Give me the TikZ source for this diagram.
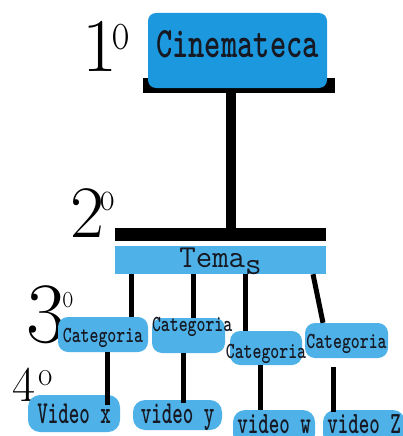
\documentclass[tikz,border=0pt]{standalone}
\usepackage{graphicx}
\definecolor{cineblue}{RGB}{28,152,222}
\definecolor{skyblue}{RGB}{78,178,232}
\definecolor{inkblack}{RGB}{22,24,34}
% stretched text and raised ordinal o
\newcommand{\tall}[2][1.4]{\scalebox{1}[#1]{#2}}
\newcommand{\ordo}[3]{\raisebox{#1}{\scalebox{1}[#3]{\fontsize{#2}{#2}\selectfont o}}}
\tikzset{
  level/.style={inner sep=0pt, text=black, anchor=base west},
  bar/.style={fill=black, inner sep=0pt},
  bigbox/.style={fill=cineblue, rounded corners=8pt, inner sep=0pt, text=inkblack,
    font=\ttfamily\bfseries\fontsize{31}{31}\selectfont},
  temabox/.style={fill=skyblue, inner sep=0pt, text=inkblack,
    font=\ttfamily\fontsize{32}{32}\selectfont},
  catbox/.style={fill=skyblue, rounded corners=10pt, inner sep=0pt, text=inkblack,
    font=\ttfamily\bfseries\fontsize{17}{17}\selectfont},
  vidbox/.style={fill=skyblue, rounded corners=12pt, inner sep=0pt, text=inkblack,
    font=\ttfamily\bfseries\fontsize{20}{20}\selectfont},
  stem/.style={black, line width=10pt},
  link/.style={black, line width=5pt},
}
\begin{document}
\begin{tikzpicture}[x=1pt, y=-1pt]
  \clip (0,0) rectangle (403,436);
  % level marks
  \node[level, font=\fontsize{76}{76}\selectfont] (lev1) at (82,71) {1\hspace{-5pt}\ordo{21pt}{37}{1.55}};
  \node[level, font=\fontsize{74}{74}\selectfont] (lev2) at (70,237) {2\hspace{-4pt}\ordo{27pt}{31}{1.35}};
  \node[level, font=\fontsize{86}{86}\selectfont] (lev3) at (26,342) {3\hspace{-3pt}\ordo{35pt}{23}{1.5}};
  \node[level, font=\fontsize{50}{50}\selectfont] (lev4) at (12,401) {4\hspace{3pt}\ordo{16pt}{31}{1.1}};
  % top
  \node[bar, minimum width=192pt, minimum height=15pt] (bar1) at (239,85.5) {};
  \node[bigbox, minimum width=179pt, text height=44pt, text depth=31pt] (cine) at (237.5,50.5) {\tall[1.4]{Cinemateca}};
  \node[bar, minimum width=211pt, minimum height=13pt] (bar2) at (220.5,234.5) {};
  \node[temabox, minimum width=211pt, text height=21pt, text depth=7pt] (temas) at (220.5,260) {Tema\raisebox{-7pt}{s}};
  % categories
  \node[catbox, minimum width=90pt, text height=25pt, text depth=10pt] (cat1) at (103,334.5) {\tall[1.35]{Categoria}};
  \node[catbox, minimum width=73pt, text height=13pt, text depth=22pt] (cat2) at (188.5,335.5) {\makebox[73pt][l]{\tall[1.35]{Categoria}}};
  \node[catbox, minimum width=72pt, text height=27pt, text depth=7pt] (cat3) at (266,348) {\makebox[72pt]{\tall[1.35]{Categoria}}};
  \node[catbox, minimum width=83pt, text height=25pt, text depth=10pt] (cat4) at (346.5,340.5) {\tall[1.35]{Categoria}};
  % videos
  \node[vidbox, minimum width=92pt, text height=28pt, text depth=9pt] (vidx) at (74,413.5) {\tall[1.6]{Video x}};
  \node[vidbox, minimum width=89pt, text height=23pt, text depth=7pt] (vidy) at (177.5,415) {\tall[1.6]{video y}};
  \node[vidbox, minimum width=82pt, text height=23pt, text depth=13pt] (vidw) at (274,428) {\tall[1.55]{video w}};
  \node[vidbox, minimum width=82pt, text height=23pt, text depth=13pt] (vidz) at (364,428) {\tall[1.55]{video Z}};
  % connectors
  \draw[stem] ([xshift=-8pt]bar1.south) -- ([xshift=10.5pt]bar2.north);
  \draw[link] ([xshift=-89.5pt]temas.south) -- ([xshift=28pt]cat1.north);
  \draw[link] ([xshift=-27.5pt]temas.south) -- ([xshift=4.5pt]cat2.north);
  \draw[link] ([xshift=24.5pt]temas.south) -- ([xshift=-21pt]cat3.north);
  \draw[link] ([xshift=92.5pt]temas.south) -- ([xshift=-23.5pt]cat4.north);
  \draw[link, shorten >=-10pt] ([xshift=4pt]cat1.south) -- ([xshift=33pt]vidx.north);
  \draw[link, shorten >=-3pt] ([xshift=-5.5pt]cat2.south) -- ([xshift=5.5pt]vidy.north);
  \draw[link] ([xshift=-5.5pt]cat3.south) -- ([xshift=-13.5pt]vidw.north);
  \draw[link, shorten <=9pt, shorten >=-2pt] ([xshift=-13.5pt]cat4.south) -- ([xshift=-31pt]vidz.north);
\end{tikzpicture}
\end{document}
